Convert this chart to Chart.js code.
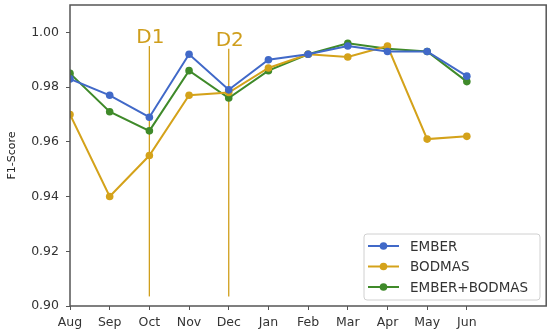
<!DOCTYPE html>
<html>
<head>
<meta charset="utf-8">
<script src="https://cdn.jsdelivr.net/npm/chart.js@4/dist/chart.umd.min.js"></script>
<style>
  html, body { margin: 0; padding: 0; background: #fff; }
  #wrap { width: 550px; height: 335px; position: relative; }
</style>
</head>
<body>
<div id="wrap"><canvas id="chart"></canvas></div>
<script>
var months = ['Aug', 'Sep', 'Oct', 'Nov', 'Dec', 'Jan', 'Feb', 'Mar', 'Apr', 'May', 'Jun'];

var ember       = [0.983, 0.977, 0.969, 0.992, 0.979, 0.990, 0.992, 0.995, 0.993, 0.993, 0.984];
var bodmas      = [0.970, 0.940, 0.955, 0.977, 0.978, 0.987, 0.992, 0.991, 0.995, 0.961, 0.962];
var emberBodmas = [0.985, 0.971, 0.964, 0.986, 0.976, 0.986, 0.992, 0.996, 0.994, 0.993, 0.982];

// drift markers: month index, line top value
var drifts = [{label: 'D1', x: 2, top: 0.995}, {label: 'D2', x: 4, top: 0.994}];

var yTicks = [0.90, 0.92, 0.94, 0.96, 0.98, 1.00];

var colours = {ember: '#4169c8', bodmas: '#d4a21a', both: '#3f8a2a', drift: '#cf9e1c'};

function pts(arr){
  return arr.map(function(v, i){ return {x: i, y: v}; });
}

function series(label, data, colour){
  return {
    label: label,
    data: pts(data),
    borderColor: colour,
    backgroundColor: colour,
    borderWidth: 2,
    pointRadius: 3.8,
    pointHoverRadius: 3.8,
    pointBorderWidth: 0,
    tension: 0
  };
}

// frame + drift lines + legend inside the plot
var extras = {
  id: 'extras',
  beforeDatasetsDraw: function(chart){
    var ctx = chart.ctx;
    var xS = chart.scales.x, yS = chart.scales.y;
    ctx.save();
    drifts.forEach(function(d){
      var px = xS.getPixelForValue(d.x);
      ctx.strokeStyle = colours.drift;
      ctx.lineWidth = 1.3;
      ctx.beginPath();
      ctx.moveTo(px, yS.getPixelForValue(d.top));
      ctx.lineTo(px, yS.getPixelForValue(0.9035));
      ctx.stroke();
      ctx.fillStyle = colours.drift;
      ctx.font = '20px "DejaVu Sans", sans-serif';
      ctx.textAlign = 'center';
      ctx.textBaseline = 'bottom';
      ctx.fillText(d.label, px + 1, yS.getPixelForValue(d.top) + 2);
    });
    ctx.restore();
  },
  afterDraw: function(chart){
    var ctx = chart.ctx;
    var a = chart.chartArea;
    ctx.save();
    ctx.strokeStyle = '#555';
    ctx.lineWidth = 1.5;
    ctx.strokeRect(a.left, a.top, a.right - a.left, a.bottom - a.top);

    // legend box
    var bx = 364, by = 234, bw = 176, bh = 66;
    ctx.fillStyle = 'rgba(255,255,255,0.85)';
    ctx.strokeStyle = '#d0d0d0';
    ctx.lineWidth = 1;
    ctx.beginPath();
    ctx.roundRect(bx, by, bw, bh, 3);
    ctx.fill();
    ctx.stroke();
    ctx.font = '13.5px "DejaVu Sans", sans-serif';
    ctx.textBaseline = 'middle';
    ctx.textAlign = 'left';
    chart.data.datasets.forEach(function(ds, i){
      var cy = by + 12 + i * 20.5;
      ctx.strokeStyle = ds.borderColor;
      ctx.lineWidth = 2;
      ctx.beginPath();
      ctx.moveTo(bx + 4, cy);
      ctx.lineTo(bx + 35, cy);
      ctx.stroke();
      ctx.fillStyle = ds.borderColor;
      ctx.beginPath();
      ctx.arc(bx + 19.5, cy, 3.8, 0, Math.PI * 2);
      ctx.fill();
      ctx.fillStyle = '#333';
      ctx.fillText(ds.label, bx + 46, cy + 1);
    });
    ctx.restore();
  }
};

new Chart(document.getElementById('chart'), {
  type: 'line',
  data: {
    datasets: [
      series('EMBER', ember, colours.ember),
      series('BODMAS', bodmas, colours.bodmas),
      series('EMBER+BODMAS', emberBodmas, colours.both)
    ]
  },
  options: {
    responsive: true,
    maintainAspectRatio: false,
    animation: false,
    layout: {padding: {top: 5, right: 3, left: 0, bottom: 0}},
    plugins: {legend: {display: false}, tooltip: {enabled: false}},
    scales: {
      x: {
        type: 'linear',
        min: 0,
        max: 12,
        afterBuildTicks: function(axis){
          axis.ticks = months.map(function(m, i){ return {value: i}; });
        },
        afterFit: function(axis){
          axis.height = 29;
          axis.paddingRight = 0;
        },
        ticks: {
          autoSkip: false,
          maxRotation: 0,
          color: '#333',
          padding: 5,
          font: {family: '"DejaVu Sans", sans-serif', size: 12.5},
          callback: function(v){ return months[v]; }
        },
        grid: {drawOnChartArea: false, drawTicks: true, tickLength: 4, color: '#555'},
        border: {display: false}
      },
      y: {
        min: 0.90,
        max: 1.01,
        afterBuildTicks: function(axis){
          axis.ticks = yTicks.map(function(v){ return {value: v}; });
        },
        afterFit: function(axis){
          axis.width = 70;
          axis.paddingTop = 0;
          axis.paddingBottom = 0;
        },
        ticks: {
          color: '#333',
          padding: 7,
          font: {family: '"DejaVu Sans", sans-serif', size: 12.5},
          callback: function(v){ return v.toFixed(2); }
        },
        title: {
          display: true,
          text: 'F1-Score',
          color: '#222',
          padding: {top: 6, bottom: 0},
          font: {family: '"DejaVu Sans", sans-serif', size: 11}
        },
        grid: {drawOnChartArea: false, drawTicks: true, tickLength: 4, color: '#555'},
        border: {display: false}
      }
    }
  },
  plugins: [extras]
});
</script>
</body>
</html>
